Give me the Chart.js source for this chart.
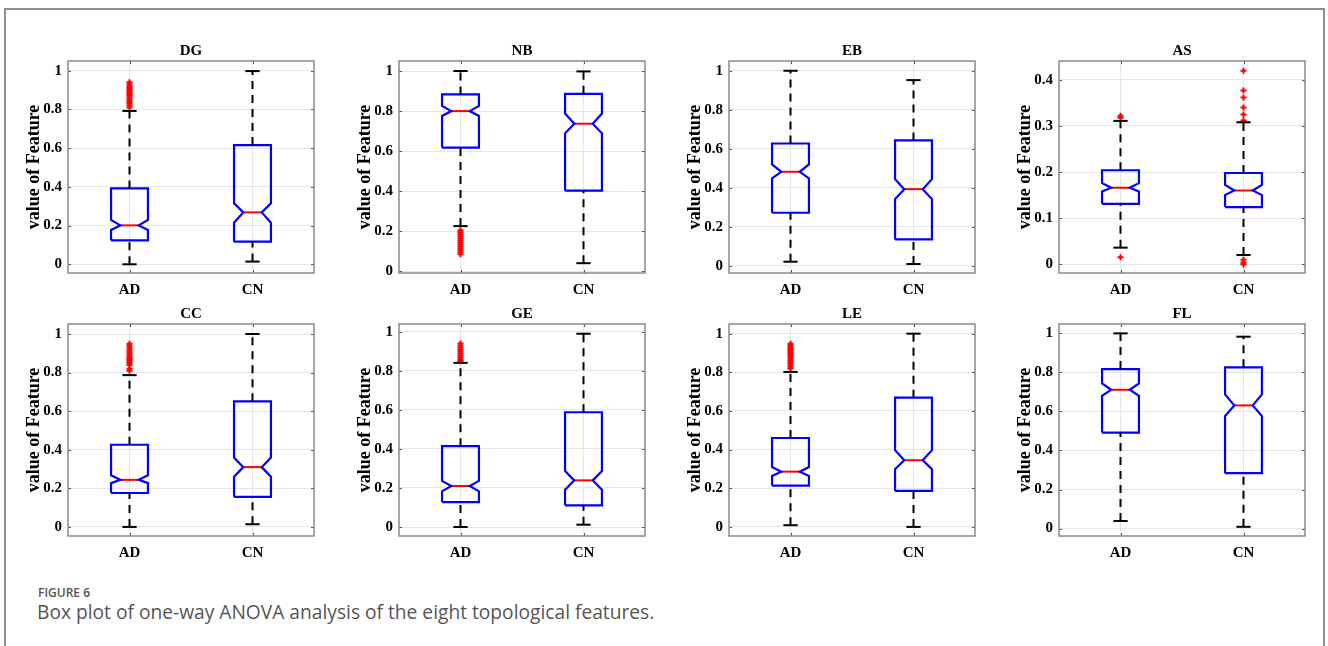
<!DOCTYPE html>
<html><head><meta charset="utf-8">
<script src="https://cdn.jsdelivr.net/npm/chart.js@4.4.0/dist/chart.umd.min.js"></script>
<style>
html,body{margin:0;padding:0;background:#fff;}
body{width:1328px;height:646px;overflow:hidden;position:relative;font-family:'Open Sans',sans-serif;}
#frame{position:absolute;left:4px;top:8px;width:1317px;height:700px;border:2px solid #8f8f8f;box-sizing:content-box;}
canvas.cv{position:absolute;}
#fig{position:absolute;left:38px;top:584px;font-size:12px;font-weight:600;color:#555;line-height:normal;white-space:nowrap;}
#cap{position:absolute;left:37px;top:598px;font-size:19.2px;color:#555;line-height:normal;white-space:nowrap;}
</style></head><body>
<div id="frame"></div>
<div id="fig">FIGURE 6</div>
<div id="cap">Box plot of one-way ANOVA analysis of the eight topological features.</div>
<script>
// ---------- DATA ----------
const groups = ['AD', 'CN'];
const features = ['DG', 'NB', 'EB', 'AS', 'CC', 'GE', 'LE', 'FL'];
// each entry: [AD, CN]
const whiskerLow  = [[0.000,0.014],[0.226,0.041],[0.021,0.009],[0.036,0.020],[0.000,0.014],[0.000,0.012],[0.009,0.000],[0.039,0.009]];
const q1          = [[0.124,0.117],[0.618,0.403],[0.272,0.135],[0.131,0.124],[0.176,0.156],[0.128,0.111],[0.214,0.186],[0.492,0.284]];
const notchLow    = [[0.177,0.215],[0.776,0.689],[0.448,0.342],[0.158,0.150],[0.227,0.260],[0.183,0.191],[0.264,0.298],[0.680,0.576]];
const median      = [[0.201,0.268],[0.800,0.737],[0.482,0.393],[0.166,0.160],[0.244,0.310],[0.210,0.239],[0.286,0.345],[0.711,0.631]];
const notchHigh   = [[0.229,0.315],[0.826,0.788],[0.520,0.444],[0.176,0.172],[0.268,0.360],[0.236,0.287],[0.310,0.397],[0.744,0.687]];
const q3          = [[0.392,0.616],[0.883,0.886],[0.627,0.643],[0.204,0.198],[0.426,0.651],[0.414,0.588],[0.460,0.669],[0.817,0.826]];
const whiskerHigh = [[0.792,0.998],[1.000,0.998],[1.000,0.952],[0.311,0.308],[0.787,1.000],[0.841,0.990],[0.802,1.000],[1.000,0.983]];
const outliersAD = [
  [0.81,0.82,0.83,0.84,0.85,0.86,0.87,0.88,0.89,0.90,0.91,0.92,0.93,0.94],
  [0.085,0.095,0.105,0.115,0.125,0.135,0.145,0.155,0.165,0.175,0.185,0.195,0.205],
  [],
  [0.318,0.322,0.015],
  [0.81,0.82,0.84,0.85,0.86,0.87,0.88,0.89,0.90,0.91,0.92,0.93,0.94,0.95],
  [0.85,0.86,0.87,0.88,0.89,0.90,0.91,0.92,0.93,0.94],
  [0.82,0.83,0.84,0.85,0.86,0.87,0.88,0.89,0.90,0.91,0.92,0.93,0.94,0.948],
  []
];
const outliersCN = [
  [], [], [],
  [0.312,0.325,0.340,0.362,0.377,0.420,0.010,0.004,0.000],
  [], [], [], []
];
const yMin = [-0.045,-0.008,-0.037,-0.019,-0.047,-0.046,-0.047,-0.038];
const yMax = [1.05,1.05,1.05,0.441,1.052,1.04,1.05,1.048];
const yTicksUnit = [0,0.2,0.4,0.6,0.8,1];
const yTicksAS = [0,0.1,0.2,0.3,0.4];
const yTickSets = [yTicksUnit,yTicksUnit,yTicksUnit,yTicksAS,yTicksUnit,yTicksUnit,yTicksUnit,yTicksUnit];
const yAxisTitle = 'value of Feature';

// ---------- STYLE / LAYOUT ----------
const plotLeft = [68, 399, 729, 1059];
const plotTop = [61, 324];
const plotW = 246, plotH = 212;
const boxHalf = 0.15, capHalf = 0.058;
const SERIF = "'Liberation Serif','Times New Roman',serif";

const frameBox = {
  id: 'frameBox',
  afterDatasetsDraw(chart) {
    const {ctx, chartArea: a, scales} = chart;
    ctx.save();
    ctx.strokeStyle = '#555';
    ctx.lineWidth = 1;
    scales.y.ticks.forEach(t => {
      const y = Math.round(scales.y.getPixelForValue(t.value)) + 0.5;
      ctx.beginPath(); ctx.moveTo(a.left, y); ctx.lineTo(a.left + 3, y);
      ctx.moveTo(a.right, y); ctx.lineTo(a.right - 3, y); ctx.stroke();
    });
    scales.x.ticks.forEach(t => {
      const x = Math.round(scales.x.getPixelForValue(t.value)) + 0.5;
      ctx.beginPath(); ctx.moveTo(x, a.bottom); ctx.lineTo(x, a.bottom - 3);
      ctx.moveTo(x, a.top); ctx.lineTo(x, a.top + 3); ctx.stroke();
    });
    ctx.strokeStyle = '#8a8a8a';
    ctx.lineWidth = 1.5;
    ctx.strokeRect(a.left, a.top, a.right - a.left, a.bottom - a.top);
    ctx.restore();
  }
};

function lineDs(points, color, width, dash) {
  return {data: points, showLine: true, borderColor: color, backgroundColor: color,
    borderWidth: width, borderDash: dash || [], pointRadius: 0, pointHoverRadius: 0, fill: false, tension: 0};
}

function makeChart(i) {
  const col = i % 4, row = Math.floor(i / 4);
  const L = plotLeft[col], T = plotTop[row];
  const cv = document.createElement('canvas');
  cv.className = 'cv';
  const W = 68 + plotW + 12, H = 30 + plotH + 40;
  cv.width = W; cv.height = H;
  cv.style.left = (L - 68) + 'px'; cv.style.top = (T - 30) + 'px';
  cv.style.width = W + 'px'; cv.style.height = H + 'px';
  document.body.appendChild(cv);

  const ds = [];
  groups.forEach((g, k) => {
    const x = k + 1;
    const lo = whiskerLow[i][k], a = q1[i][k], nl = notchLow[i][k], m = median[i][k],
          nh = notchHigh[i][k], b = q3[i][k], hi = whiskerHigh[i][k];
    ds.push(lineDs([{x, y: lo}, {x, y: a}], '#000', 2, [8, 6]));
    ds.push(lineDs([{x, y: b}, {x, y: hi}], '#000', 2, [8, 6]));
    ds.push(lineDs([{x: x - capHalf, y: lo}, {x: x + capHalf, y: lo}], '#000', 2));
    ds.push(lineDs([{x: x - capHalf, y: hi}, {x: x + capHalf, y: hi}], '#000', 2));
    const w = boxHalf, wn = boxHalf / 2;
    ds.push(lineDs([
      {x: x - w, y: a}, {x: x - w, y: nl}, {x: x - wn, y: m}, {x: x - w, y: nh}, {x: x - w, y: b},
      {x: x + w, y: b}, {x: x + w, y: nh}, {x: x + wn, y: m}, {x: x + w, y: nl}, {x: x + w, y: a},
      {x: x - w, y: a}], '#0000ff', 2.2));
    ds.push(lineDs([{x: x - wn, y: m}, {x: x + wn, y: m}], '#ff0000', 2));
    const outs = k === 0 ? outliersAD[i] : outliersCN[i];
    ds.push({data: outs.map(v => ({x, y: v})), showLine: false, pointStyle: 'cross',
      pointRadius: 3, borderWidth: 2, borderColor: '#ff0000', backgroundColor: '#ff0000', pointHoverRadius: 0});
  });

  new Chart(cv, {
    type: 'scatter',
    data: {datasets: ds},
    plugins: [frameBox],
    options: {
      responsive: false, animation: false, devicePixelRatio: 1,
      layout: {padding: {left: 0, right: 12, top: 0, bottom: 0}},
      events: [],
      plugins: {
        legend: {display: false}, tooltip: {enabled: false},
        title: {display: true, text: features[i], color: '#000', fullSize: false,
          font: {family: SERIF, size: 15, weight: 'bold'}, padding: {top: 11, bottom: 1}}
      },
      scales: {
        x: {
          type: 'linear', min: 0.5, max: 2.5,
          afterBuildTicks: s => { s.ticks = groups.map((g, k) => ({value: k + 1})); },
          afterFit: s => { s.height = 40; },
          ticks: {callback: v => groups[Math.round(v) - 1] || '', color: '#000', padding: 8,
            font: {family: SERIF, size: 15, weight: 'bold'}, maxRotation: 0, autoSkip: false},
          grid: {color: '#e6e6e6', drawTicks: false, lineWidth: 1},
          border: {display: false}
        },
        y: {
          min: yMin[i], max: yMax[i],
          afterBuildTicks: s => { s.ticks = yTickSets[i].map(v => ({value: v})); },
          afterFit: s => { s.width = 68; },
          ticks: {callback: v => String(Number(v.toFixed(2))), color: '#000', padding: 6,
            font: {family: SERIF, size: 15, weight: 'bold'}, autoSkip: false},
          grid: {color: '#e6e6e6', drawTicks: false, lineWidth: 1},
          border: {display: false},
          title: {display: true, text: yAxisTitle, color: '#000',
            font: {family: SERIF, size: 18, weight: 'bold'}, padding: {top: 24, bottom: 0}}
        }
      }
    }
  });
}
for (let i = 0; i < features.length; i++) makeChart(i);
</script>
</body></html>
